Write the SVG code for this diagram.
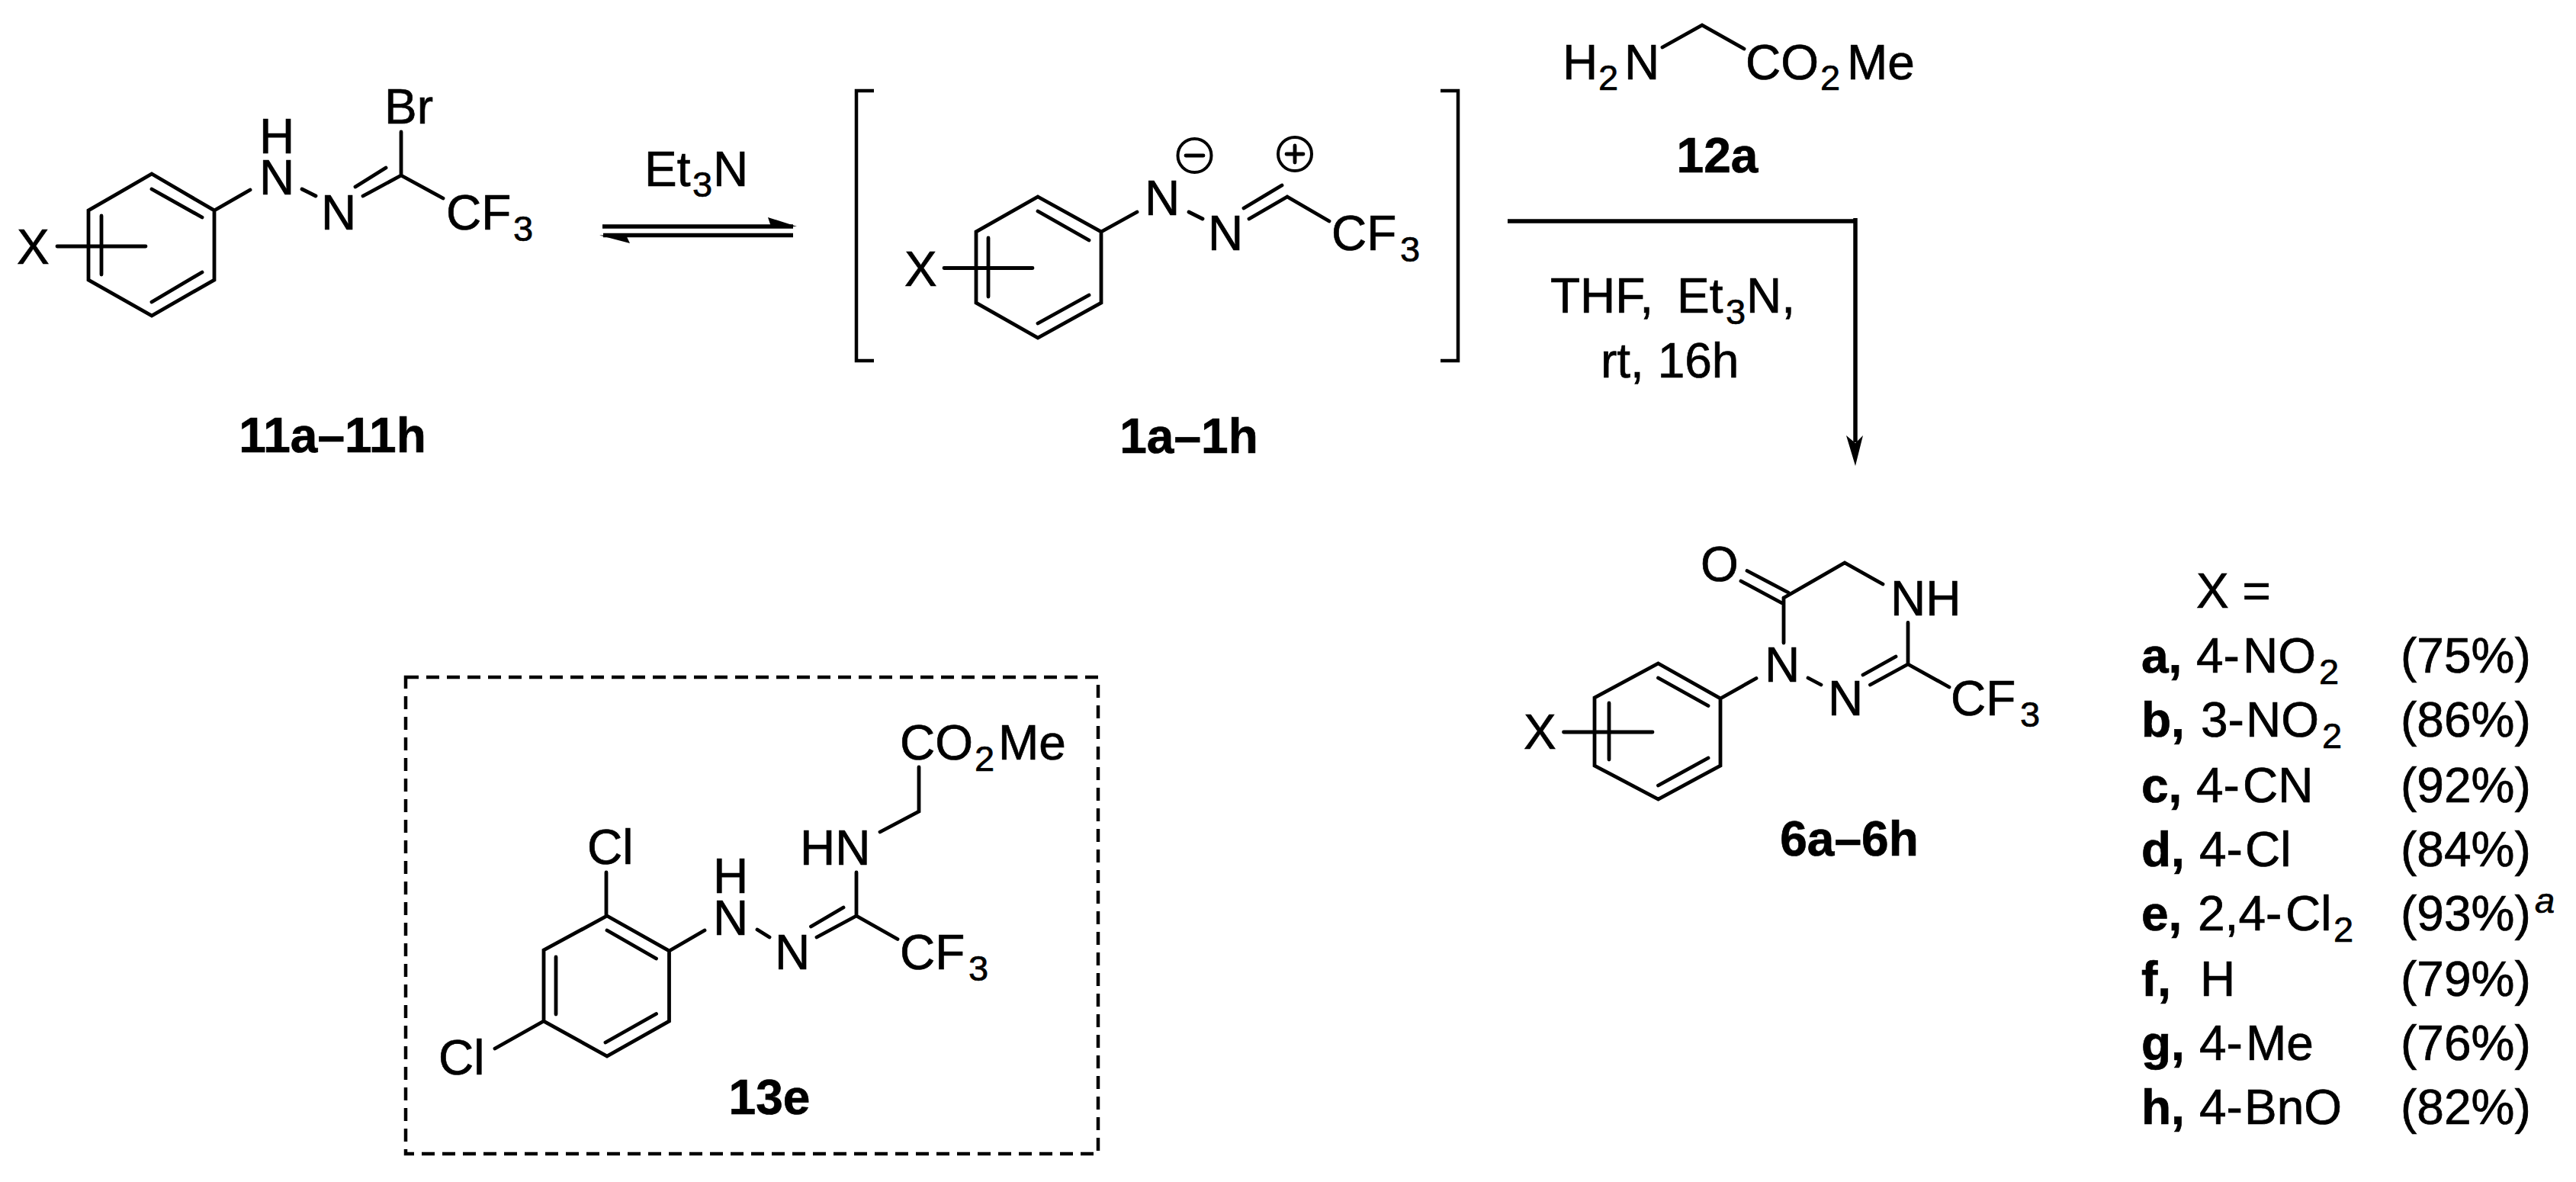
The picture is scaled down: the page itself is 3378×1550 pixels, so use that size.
<svg xmlns="http://www.w3.org/2000/svg" width="3378" height="1550" viewBox="0 0 3378 1550">
<style>
text{font-family:"Liberation Sans",Arial,sans-serif;font-size:64px;fill:#000;stroke:#000;stroke-width:.7}
.b{font-weight:bold}
.s{font-size:47px}
.m{text-anchor:middle}
.bond{fill:none;stroke:#000;stroke-width:4.8;stroke-linecap:round;stroke-linejoin:miter}
.line{fill:none;stroke:#000;stroke-width:5.500}
.head{fill:#000;stroke:none}
</style>
<rect width="3378" height="1550" fill="#fff"/>
<g id="compound-11">
<path class="bond" d="M199 228L281 276V367L199 414L116 367V276ZM199 248L265 285M265 357L199 396M133 283V360M75 323H191M281 276L328 249M396 248L414 257M476 257L526 230M466 245L506 220M526 230V173M526 230L581 260"/>
<text x="22" y="346">X</text>
<text class="m"><tspan x="363" y="201">H</tspan><tspan x="363" y="255">N</tspan></text>
<text class="m" x="444" y="301">N</text>
<text x="504" y="162">Br</text>
<text x="585" y="301">CF<tspan class="s" x="673" y="316">3</tspan></text>
<text class="b m" x="436" y="593">11a–11h</text>
</g>
<g id="compound-1">
<path class="line" style="stroke-width:4.500" d="M1146 119H1123V473H1146M1889 119H1912V473H1889"/>
<path class="bond" d="M1361 258L1444 304V397L1361 443L1280 397V304ZM1361 277L1428 315M1428 387L1361 424M1296 312V389M1238 351.500H1354M1444 304L1491 278M1559 278L1577 287M1638 287L1688 258M1631 273L1681 243M1688 258L1743 290"/>
<circle cx="1566.500" cy="204" r="22" fill="none" stroke="#000" stroke-width="4"/>
<path class="bond" d="M1555 204H1578"/>
<circle cx="1698" cy="202" r="22" fill="none" stroke="#000" stroke-width="4"/>
<path class="bond" d="M1687 202H1709M1698 191V213"/>
<text x="1186" y="375">X</text>
<text class="m" x="1524" y="282">N</text>
<text class="m" x="1607" y="328">N</text>
<text x="1746" y="328">CF<tspan class="s" x="1836" y="343">3</tspan></text>
<text class="b m" x="1559" y="594">1a–1h</text>
</g>
<g id="compound-12a">
<path class="bond" d="M2180 62L2232 33L2287 64"/>
<text x="2049" y="103.500">H<tspan class="s" x="2096" y="118">2</tspan><tspan x="2130" y="103.500">N</tspan></text>
<text x="2289" y="103.500">CO<tspan class="s" x="2387" y="118">2</tspan><tspan x="2422" y="103.500">Me</tspan></text>
<text class="b m" x="2252" y="226">12a</text>
</g>
<g id="connectors">
<path class="line" d="M790 297H1040M791 308.500H1040"/>
<path class="head" d="M1045 297L1007 285L1011 297Z"/>
<path class="head" d="M786 308.500L826 319L821 308.500Z"/>
<path class="line" d="M1977 290H2435.500M2433 286V580"/>
<path class="head" d="M2433 611L2421 571L2433 581L2443 571Z"/>
<text x="845" y="244">Et<tspan class="s" x="908" y="258">3</tspan><tspan x="935" y="244">N</tspan></text>
<text x="2033" y="410">THF,</text>
<text x="2199" y="410">Et<tspan class="s" x="2263" y="425">3</tspan><tspan x="2290" y="410">N,</tspan></text>
<text x="2099" y="495">rt, 16h</text>
</g>
<g id="compound-6">
<path class="bond" d="M2174.500 870L2256 916V1004L2174.500 1048L2091 1004V915ZM2174.500 889L2240 925.500M2240 994L2174.500 1030M2110 922V996M2050.500 960H2167M2256 916L2303 889.500M2339 843V784M2291 748.500L2345 777M2283 762L2337 791M2339 784L2419 738L2469 766M2502 816.500V871M2452.500 898L2502 871M2443 885L2486 861M2371 889L2388 898M2502 871L2556 901"/>
<text x="1998" y="982">X</text>
<text class="m" x="2255" y="762">O</text>
<text x="2479" y="807">NH</text>
<text class="m" x="2337" y="894">N</text>
<text class="m" x="2420" y="938">N</text>
<text x="2558" y="938">CF<tspan class="s" x="2649" y="953">3</tspan></text>
<text class="b m" x="2425" y="1122">6a–6h</text>
</g>
<g id="legend">
<text x="2880" y="796.500">X =</text>
<text class="b" x="2808" y="882">a,</text><text x="2880" y="882">4-<tspan x="2941">NO</tspan><tspan class="s" x="3041" y="897">2</tspan></text><text x="3148" y="882">(75%)</text>
<text class="b" x="2808" y="966">b,</text><text x="2886" y="966">3-<tspan x="2945">NO</tspan><tspan class="s" x="3045" y="981">2</tspan></text><text x="3148" y="966">(86%)</text>
<text class="b" x="2808" y="1052">c,</text><text x="2880" y="1052">4-<tspan x="2941">CN</tspan></text><text x="3148" y="1052">(92%)</text>
<text class="b" x="2808" y="1136">d,</text><text x="2884" y="1136">4-<tspan x="2944">Cl</tspan></text><text x="3148" y="1136">(84%)</text>
<text class="b" x="2808" y="1220">e,</text><text x="2882" y="1220">2,4-<tspan x="2997">Cl</tspan><tspan class="s" x="3060" y="1235">2</tspan></text><text x="3148" y="1220">(93%)<tspan class="s" style="font-style:italic" x="3324" y="1197">a</tspan></text>
<text class="b" x="2808" y="1306">f,</text><text x="2885" y="1306">H</text><text x="3148" y="1306">(79%)</text>
<text class="b" x="2808" y="1390">g,</text><text x="2884" y="1390">4-<tspan x="2945">Me</tspan></text><text x="3148" y="1390">(76%)</text>
<text class="b" x="2808" y="1474">h,</text><text x="2884" y="1474">4-<tspan x="2943">BnO</tspan></text><text x="3148" y="1474">(82%)</text>
</g>
<g id="compound-13e">
<rect x="532" y="888" width="908" height="625" fill="none" stroke="#000" stroke-width="4.500" stroke-dasharray="17 10"/>
<path class="bond" d="M796 1201L877.500 1247V1339L796 1385L713 1339V1246ZM796 1220L860.500 1257M860.500 1329.500L794 1367M729 1255V1330M795 1144V1201M713 1339L649 1375M877.500 1247L924 1220M993 1219L1009 1229M1071 1229L1123 1201M1063.500 1215L1106 1190M1123 1201L1177 1231.500M1123 1201V1144M1154 1091L1205 1064V1006"/>
<text x="770" y="1133">Cl</text>
<text x="575" y="1409">Cl</text>
<text class="m"><tspan x="958" y="1171">H</tspan><tspan x="958" y="1226">N</tspan></text>
<text class="m" x="1039" y="1271">N</text>
<text x="1049" y="1134">HN</text>
<text x="1180" y="1271">CF<tspan class="s" x="1270" y="1286">3</tspan></text>
<text x="1180" y="996">CO<tspan class="s" x="1278" y="1011">2</tspan><tspan x="1309" y="996">Me</tspan></text>
<text class="b m" x="1009" y="1461">13e</text>
</g>
</svg>
